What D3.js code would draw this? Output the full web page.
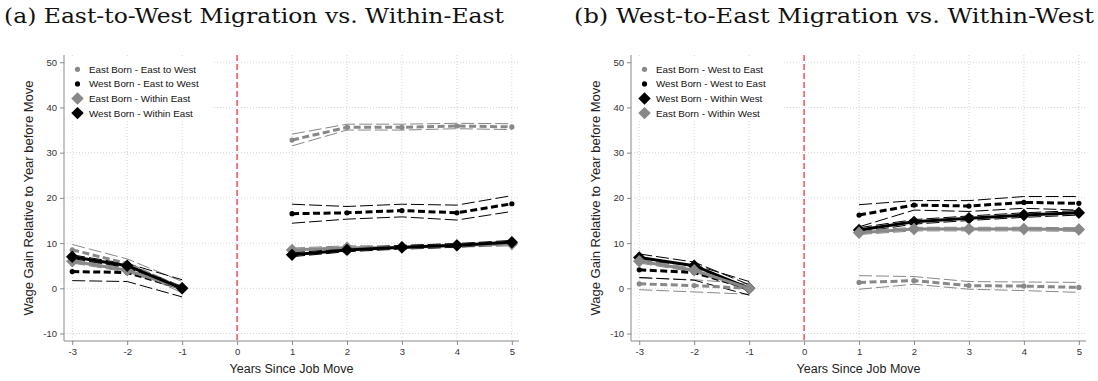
<!DOCTYPE html>
<meta charset="utf-8">
<style>
body { margin: 0; background: #fff; }
text { font-family: "Liberation Sans", Arial, sans-serif; }
.title { font-family: "DejaVu Serif", "Liberation Serif", serif; font-size: 21px; fill: #111; }
.grid line { stroke: #d4d4d4; stroke-dasharray: 1,2; }
.axis path, .axis line { stroke: #8a8a8a; }
.axis text { font-size: 9.5px; fill: #333; }
</style>
<svg width="1098" height="381"></svg>
<script src="https://d3js.org/d3.v7.min.js"></script>
<script>
// years relative to job move
var yearsPre = [-3, -2, -1];
var yearsPost = [1, 2, 3, 4, 5];
var xTicks = [-3, -2, -1, 0, 1, 2, 3, 4, 5];
var yTicks = [-10, 0, 10, 20, 30, 40, 50];

// panel (a)
var aEastBornMig = [8.5, 5.5, 0, 32.8, 35.6, 35.6, 35.9, 35.7];
var aEastBornMigLo = [7.3, 4.5, -1.0, 31.5, 35.0, 35.0, 35.3, 35.1];
var aEastBornMigHi = [9.7, 6.5, 1.5, 34.1, 36.3, 36.3, 36.5, 36.4];
var aWestBornMig = [3.7, 3.5, 0, 16.5, 16.7, 17.2, 16.7, 18.7];
var aWestBornMigLo = [1.7, 1.5, -1.9, 14.4, 15.3, 15.8, 15.1, 17.0];
var aWestBornMigHi = [5.7, 5.5, 1.9, 18.6, 18.1, 18.6, 18.4, 20.5];
var aEastBornWithin = [6.0, 4.0, 0, 8.5, 9.0, 9.0, 9.5, 9.8];
var aEastBornWithinLo = [5.6, 3.6, -0.4, 8.1, 8.6, 8.6, 9.1, 9.4];
var aEastBornWithinHi = [6.4, 4.4, 0.4, 8.9, 9.4, 9.4, 9.9, 10.2];
var aWestBornWithin = [7.0, 5.0, 0, 7.4, 8.5, 9.1, 9.5, 10.2];
var aWestBornWithinLo = [6.6, 4.6, -0.4, 7.0, 8.1, 8.7, 9.1, 9.8];
var aWestBornWithinHi = [7.4, 5.4, 0.4, 7.8, 8.9, 9.5, 9.9, 10.6];

// panel (b)
var bEastBornMig = [1.0, 0.6, 0, 1.3, 1.7, 0.6, 0.5, 0.2];
var bEastBornMigLo = [-0.3, -0.8, -1.3, -0.2, 0.9, -0.2, -0.5, -0.9];
var bEastBornMigHi = [2.3, 1.9, 1.0, 2.8, 2.6, 1.5, 1.4, 1.3];
var bWestBornMig = [4.1, 3.5, 0, 16.2, 18.4, 18.2, 19.0, 18.8];
var bWestBornMigLo = [2.4, 1.8, -1.5, 13.6, 17.3, 17.0, 17.7, 17.3];
var bWestBornMigHi = [6.0, 5.2, 1.5, 18.5, 19.4, 19.4, 20.3, 20.3];
var bWestBornWithin = [6.8, 5.0, 0, 12.9, 14.7, 15.5, 16.2, 16.7];
var bWestBornWithinLo = [6.0, 4.2, -0.6, 12.4, 14.2, 15.0, 15.7, 16.2];
var bWestBornWithinHi = [7.6, 5.8, 0.8, 13.4, 15.2, 16.0, 16.7, 17.2];
var bEastBornWithin = [6.0, 4.0, 0, 12.3, 13.1, 13.1, 13.1, 13.0];
var bEastBornWithinLo = [5.6, 3.6, -0.4, 11.9, 12.7, 12.7, 12.7, 12.6];
var bEastBornWithinHi = [6.4, 4.4, 0.4, 12.7, 13.5, 13.5, 13.5, 13.4];

var gray = "#888888", black = "#000000";

var panels = [
  {
    title: "(a) East-to-West Migration vs. Within-East", titleX: 4, titleW: 500, left: 64, legendW: 147,
    series: [
      {name: "East Born - East to West", color: gray, shape: "circle", dashed: true, v: aEastBornMig, lo: aEastBornMigLo, hi: aEastBornMigHi},
      {name: "West Born - East to West", color: black, shape: "circle", dashed: true, v: aWestBornMig, lo: aWestBornMigLo, hi: aWestBornMigHi},
      {name: "East Born - Within East", color: gray, shape: "diamond", dashed: false, v: aEastBornWithin, lo: aEastBornWithinLo, hi: aEastBornWithinHi},
      {name: "West Born - Within East", color: black, shape: "diamond", dashed: false, v: aWestBornWithin, lo: aWestBornWithinLo, hi: aWestBornWithinHi}
    ]
  },
  {
    title: "(b) West-to-East Migration vs. Within-West", titleX: 574, titleW: 520, left: 631, legendW: 149,
    series: [
      {name: "East Born - West to East", color: gray, shape: "circle", dashed: true, v: bEastBornMig, lo: bEastBornMigLo, hi: bEastBornMigHi},
      {name: "West Born - West to East", color: black, shape: "circle", dashed: true, v: bWestBornMig, lo: bWestBornMigLo, hi: bWestBornMigHi},
      {name: "West Born - Within West", color: black, shape: "diamond", dashed: false, v: bWestBornWithin, lo: bWestBornWithinLo, hi: bWestBornWithinHi},
      {name: "East Born - Within West", color: gray, shape: "diamond", dashed: false, v: bEastBornWithin, lo: bEastBornWithinLo, hi: bEastBornWithinHi}
    ]
  }
];

var svg = d3.select("svg");
var plotTop = 55, plotBottom = 341, plotW = 455;

function drawMarker(sel, shape, color) {
  if (shape === "circle") {
    sel.append("circle").attr("r", 2.6).attr("fill", color);
  } else {
    sel.append("rect")
      .attr("x", -4.4).attr("y", -4.4).attr("width", 8.8).attr("height", 8.8)
      .attr("transform", "rotate(45)")
      .attr("fill", color);
  }
}

panels.forEach(function(p) {
  var x = d3.scaleLinear().domain([-3.15, 5.13]).range([p.left, p.left + plotW]);
  var y = d3.scaleLinear().domain([-11.65, 51.6]).range([plotBottom, plotTop]);
  var allX = yearsPre.concat(yearsPost);

  svg.append("text").attr("class", "title")
    .attr("x", p.titleX).attr("y", 23)
    .attr("textLength", p.titleW).attr("lengthAdjust", "spacingAndGlyphs")
    .text(p.title);

  // grid
  var grid = svg.append("g").attr("class", "grid");
  grid.selectAll(".gy").data(yTicks).enter().append("line")
    .attr("x1", p.left).attr("x2", p.left + plotW)
    .attr("y1", function(d) { return y(d); }).attr("y2", function(d) { return y(d); });
  grid.selectAll(".gx").data(xTicks.filter(function(d) { return d !== 0; })).enter().append("line")
    .attr("y1", plotTop).attr("y2", plotBottom)
    .attr("x1", function(d) { return x(d); }).attr("x2", function(d) { return x(d); });

  // reference line at move
  svg.append("line")
    .attr("x1", x(0)).attr("x2", x(0)).attr("y1", plotTop).attr("y2", plotBottom)
    .attr("stroke", "#e8383d").attr("stroke-width", 1.3).attr("stroke-dasharray", "6,3");

  // axes
  svg.append("g").attr("class", "axis")
    .attr("transform", "translate(" + p.left + ",0)")
    .call(d3.axisLeft(y).tickValues(yTicks).tickSize(4).tickSizeOuter(0).tickFormat(String))
    .call(function(g) { g.select(".domain").attr("d", "M0," + plotTop + "V" + plotBottom); });
  svg.append("g").attr("class", "axis")
    .attr("transform", "translate(0," + plotBottom + ")")
    .call(d3.axisBottom(x).tickValues(xTicks).tickSize(4).tickSizeOuter(0).tickFormat(String))
    .call(function(g) { g.select(".domain").attr("d", "M" + p.left + ",0H" + (p.left + plotW)); });

  svg.append("text")
    .attr("transform", "translate(" + (p.left - 36) + ",198) rotate(-90)")
    .attr("text-anchor", "middle").attr("dominant-baseline", "central")
    .attr("font-size", 13).attr("fill", "#222")
    .text("Wage Gain Relative to Year before Move");
  svg.append("text")
    .attr("x", p.left + plotW / 2).attr("y", 372.5)
    .attr("text-anchor", "middle")
    .attr("font-size", 12.5).attr("fill", "#222")
    .text("Years Since Job Move");

  var line = d3.line().x(function(d) { return x(d[0]); }).y(function(d) { return y(d[1]); });
  // pre and post periods are drawn as separate segments
  function segs(arr) {
    var pts = allX.map(function(t, i) { return [t, arr[i]]; });
    return [pts.slice(0, 3), pts.slice(3)];
  }

  // confidence bands (thin long dashes)
  p.series.forEach(function(s) {
    [s.lo, s.hi].forEach(function(arr) {
      segs(arr).forEach(function(seg) {
        svg.append("path").attr("d", line(seg))
          .attr("fill", "none").attr("stroke", s.color)
          .attr("stroke-width", 1).attr("stroke-dasharray", "13,4");
      });
    });
  });

  // point estimates
  p.series.forEach(function(s) {
    segs(s.v).forEach(function(seg) {
      svg.append("path").attr("d", line(seg))
        .attr("fill", "none").attr("stroke", s.color)
        .attr("stroke-width", 3)
        .attr("stroke-dasharray", s.dashed ? "7,3.5" : null);
    });
    svg.append("g").selectAll("g").data(allX.map(function(t, i) { return [t, s.v[i]]; }))
      .enter().append("g")
      .attr("transform", function(d) { return "translate(" + x(d[0]) + "," + y(d[1]) + ")"; })
      .each(function() { drawMarker(d3.select(this), s.shape, s.color); });
  });

  // legend
  var lg = svg.append("g");
  lg.append("rect").attr("x", p.left + 2).attr("y", 58)
    .attr("width", p.legendW).attr("height", 63).attr("fill", "#fff");
  p.series.forEach(function(s, i) {
    var yy = 69.3 + i * 14.6;
    var m = lg.append("g").attr("transform", "translate(" + (p.left + 13.5) + "," + yy + ")");
    drawMarker(m, s.shape, s.color);
    lg.append("text").attr("x", p.left + 25).attr("y", yy)
      .attr("dominant-baseline", "central")
      .attr("font-size", 9.8).attr("fill", "#111")
      .text(s.name);
  });
});
</script>
